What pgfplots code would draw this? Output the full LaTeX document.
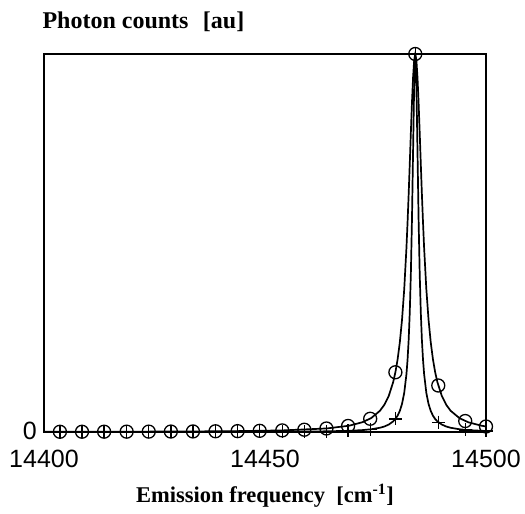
\documentclass[border=0pt]{standalone}
\usepackage{fontspec}
\setmainfont{Liberation Serif}
\newfontfamily\ticksans{Liberation Sans}
\usepackage{pgfplots}
\pgfplotsset{compat=1.18}

% broad line profile (circles) and narrow profile (pluses), peak-normalised
\newcommand{\broadcurve}{
(14400,0.00054) (14424,0.00106) (14434,0.00152) (14444,0.00237) (14454,0.00421)
(14464,0.00942) (14469,0.0166) (14472,0.0257) (14474,0.0366) (14476,0.0561)
(14477,0.0720) (14478,0.0955) (14479,0.132) (14479.5,0.158) (14480,0.192)
(14480.5,0.237) (14481,0.297) (14481.5,0.378) (14482,0.487) (14482.25,0.554)
(14482.5,0.628) (14482.75,0.709) (14483,0.792) (14483.25,0.871) (14483.5,0.938)
(14483.75,0.984) (14484,1) (14484.25,0.984) (14484.5,0.938) (14484.75,0.871)
(14485,0.792) (14485.25,0.709) (14485.5,0.628) (14485.75,0.554) (14486,0.487)
(14486.5,0.378) (14487,0.297) (14487.5,0.237) (14488,0.192) (14488.5,0.158)
(14489,0.132) (14490,0.0955) (14491,0.0720) (14492,0.0561) (14494,0.0366)
(14496,0.0257) (14499,0.0166) (14500,0.0146)}
\newcommand{\narrowcurve}{
(14400,0.0001) (14424,0.0002) (14444,0.00045) (14454,0.0008) (14464,0.0018)
(14469,0.0032) (14472,0.0050) (14474,0.0072) (14476,0.0112) (14477,0.0145)
(14478,0.0197) (14479,0.0281) (14479.5,0.0344) (14480,0.0432) (14480.5,0.0557)
(14481,0.0743) (14481.5,0.1036) (14482,0.153) (14482.25,0.191) (14482.5,0.243)
(14482.75,0.316) (14483,0.419) (14483.25,0.562) (14483.5,0.743) (14483.75,0.920)
(14484,1) (14484.25,0.920) (14484.5,0.743) (14484.75,0.562) (14485,0.419)
(14485.25,0.316) (14485.5,0.243) (14485.75,0.191) (14486,0.153) (14486.5,0.1036)
(14487,0.0743) (14487.5,0.0557) (14488,0.0432) (14488.5,0.0344) (14489,0.0281)
(14490,0.0197) (14491,0.0145) (14492,0.0112) (14494,0.0072) (14496,0.0050)
(14499,0.0032) (14500,0.0028)}

\begin{document}
\begin{tikzpicture}
\begin{axis}[
  scale only axis,
  width=442pt, height=378pt,
  xmin=14400, xmax=14500, ymin=0, ymax=1,
  clip=false,
  axis line style={line width=1.6pt},
  xtick={14400,14450,14500},
  xticklabels={14400,14450,14500},
  ytick={0}, yticklabels={0},
  scaled x ticks=false,
  major tick length=0pt,
  tick label style={font=\ticksans\fontsize{25}{25}\selectfont, inner sep=1pt},
  xticklabel style={anchor=north, yshift=-17pt},
  yticklabel style={anchor=east, xshift=-6pt, yshift=1pt},
  xlabel={\bfseries Emission frequency\ \ [cm\textsuperscript{-1}]},
  xlabel style={font=\fontsize{22.5}{22.5}\selectfont, at={(axis description cs:0.5,0)}, anchor=base, yshift=-70pt},
  ylabel={\bfseries Photon counts\hspace{0.6em}[au]},
  ylabel style={font=\fontsize{24}{24}\selectfont, rotate=-90, at={(axis description cs:0,1)}, anchor=base west, yshift=25pt, xshift=-5pt},
]
\addplot[black, line width=1.7pt] coordinates {\broadcurve};
\addplot[black, line width=1.7pt] coordinates {\narrowcurve};

% sampled points, broad profile
\addplot[only marks, mark=o, mark size=6.5pt, black, line width=1.3pt] coordinates {
(14403.6,0.0006) (14408.6,0.0007) (14413.6,0.0008) (14418.7,0.0009) (14423.7,0.001)
(14428.7,0.0012) (14433.7,0.0015) (14438.8,0.0019) (14443.8,0.0023) (14448.8,0.0031)
(14453.9,0.0042) (14458.9,0.006) (14463.9,0.0093) (14468.8,0.016) (14473.8,0.035)
(14479.5,0.158) (14484,1) (14489.2,0.123) (14495.3,0.029) (14500,0.0146)};
% sampled points, narrow profile
\addplot[only marks, mark=+, mark size=6.5pt, black, line width=1.3pt] coordinates {
(14403.6,0.0001) (14408.6,0.00013) (14413.6,0.00015) (14418.7,0.00017) (14423.7,0.0002)
(14428.7,0.00024) (14433.7,0.00029) (14438.8,0.00035) (14443.8,0.00045) (14448.8,0.00058)
(14453.9,0.0008) (14458.9,0.0011) (14463.9,0.0018) (14468.8,0.0031) (14473.8,0.0069)
(14479.5,0.0344) (14484,1) (14489.2,0.026) (14495.3,0.0056) (14500,0.0028)};

\coordinate (SW) at (rel axis cs:0,0);
\coordinate (NE) at (rel axis cs:1,1);
\end{axis}
\path ([shift={(-44pt,-82pt)}]SW) rectangle ([shift={(39pt,54pt)}]NE);
\end{tikzpicture}
\end{document}
